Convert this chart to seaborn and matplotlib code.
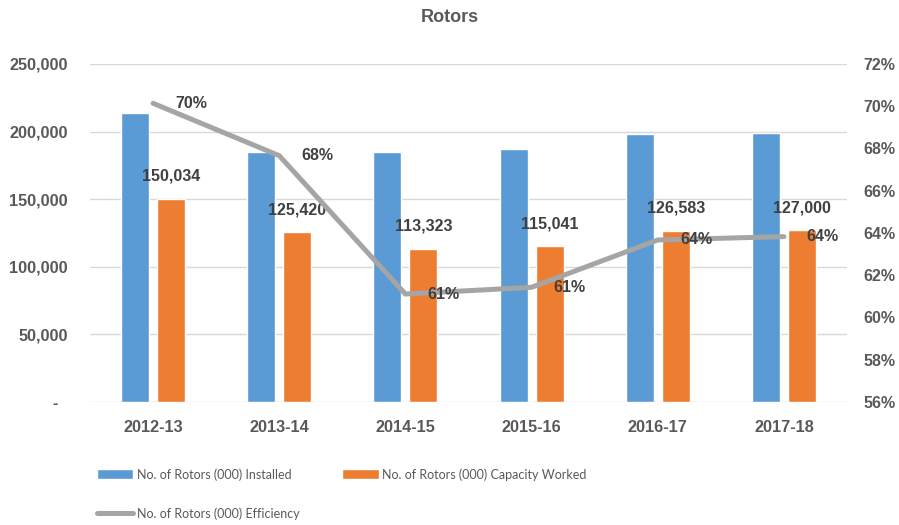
import numpy as np
import pandas as pd
import matplotlib
matplotlib.use('Agg')
import matplotlib.pyplot as plt
import seaborn as sns
from matplotlib.ticker import FuncFormatter, MultipleLocator

years = ['2012-13', '2013-14', '2014-15', '2015-16', '2016-17', '2017-18']
installed = [213500, 185100, 185000, 187100, 198300, 198700]
worked = [150034, 125420, 113323, 115041, 126583, 127000]
efficiency = [0.7014, 0.6766, 0.6111, 0.6143, 0.6367, 0.6383]

name_inst = 'No. of Rotors (000) Installed'
name_work = 'No. of Rotors (000) Capacity Worked'
name_eff = 'No. of Rotors (000) Efficiency'

df = pd.DataFrame({
    'year': years * 2,
    'value': installed + worked,
    'series': [name_inst] * len(years) + [name_work] * len(years),
})

sns.set_theme(style='white')
plt.rcParams['font.family'] = ['Liberation Sans', 'DejaVu Sans']

tick_col = '#595959'
lab_col = '#404040'

fig = plt.figure(figsize=(8.99, 5.25), dpi=100)
ax = fig.add_axes([90 / 899, 1 - 402 / 525, (847 - 90) / 899, (402 - 64) / 525])

sns.barplot(data=df, x='year', y='value', hue='series', order=years,
            palette=['#5B9BD5', '#ED7D31'], saturation=1, width=0.57, gap=0.22,
            ax=ax, legend=True)

ax.set_ylim(0, 250000)
ax.yaxis.set_major_locator(MultipleLocator(50000))
ax.yaxis.set_major_formatter(FuncFormatter(lambda v, p: '-  ' if v == 0 else f'{v:,.0f}'))
ax.grid(axis='y', color='#D9D9D9', linewidth=1.0)
ax.set_axisbelow(True)
for s in ax.spines.values():
    s.set_visible(False)
ax.set_xlabel('')
ax.set_ylabel('')
ax.tick_params(axis='y', length=0, pad=16, labelsize=11.7, labelcolor=tick_col)
ax.tick_params(axis='x', length=0, pad=13, labelsize=11.7, labelcolor=tick_col)
for t in ax.get_xticklabels() + ax.get_yticklabels():
    t.set_fontweight('bold')

ax.bar_label(ax.containers[1], labels=[f'{v:,}' for v in worked], padding=11,
             fontsize=11.5, fontweight='bold', color=lab_col)

bar_handles, bar_labels = ax.get_legend_handles_labels()
ax.get_legend().remove()

ax2 = ax.twinx()
xs = np.arange(len(years))
sns.lineplot(x=xs, y=efficiency, ax=ax2, color='#A5A5A5', linewidth=3.6,
             solid_capstyle='round', label=name_eff, legend=False)
ax2.set_ylim(0.56, 0.72)
ax2.yaxis.set_major_locator(MultipleLocator(0.02))
ax2.yaxis.set_major_formatter(FuncFormatter(lambda v, p: f'{v:.0%}'))
ax2.tick_params(axis='y', which='both', length=0, pad=12, labelsize=11.5,
                labelcolor=tick_col)
for t in ax2.get_yticklabels():
    t.set_fontweight('bold')
for s in ax2.spines.values():
    s.set_visible(False)
ax2.grid(False)
ax2.set_ylabel('')
ax.set_xlim(-0.5, len(years) - 0.5)

for x, v in zip(xs, efficiency):
    ax2.annotate(f'{v:.0%}', (x, v), xytext=(16, 0), textcoords='offset points',
                 ha='left', va='center', fontsize=11.5, fontweight='bold', color=lab_col)

line_handle = ax2.get_lines()[0]
fig.legend([bar_handles[0], line_handle, bar_handles[1]],
           [name_inst, name_eff, name_work],
           loc='upper left', bbox_to_anchor=(97 / 899, 1 - 468 / 525),
           ncol=2, frameon=False, borderpad=0, borderaxespad=0,
           handlelength=2.9, handleheight=0.8, handletextpad=0.3,
           columnspacing=3.4, labelspacing=2.15,
           prop=dict(family='Lato', size=9.0), labelcolor=tick_col)

fig.text(0.5, 1 - 18 / 525, 'Rotors', ha='center', va='center',
         fontsize=13, fontweight='bold', color=tick_col)

fig.savefig('out.png', dpi=100)
